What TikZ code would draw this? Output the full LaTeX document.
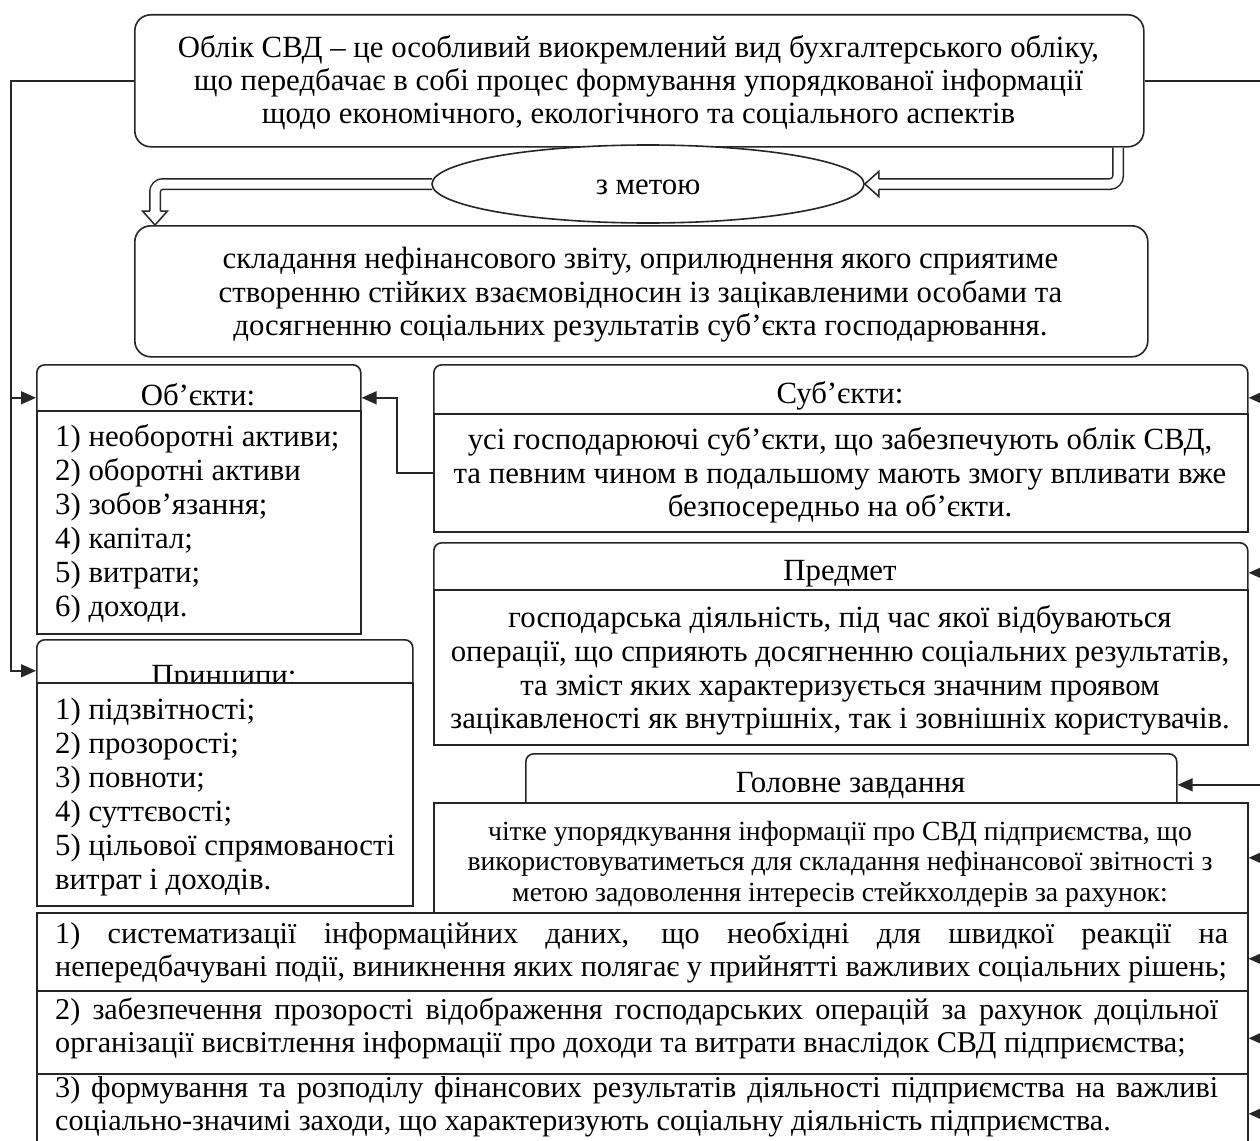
\documentclass[tikz,border=0pt]{standalone}
\usepackage{fontspec}
\setmainfont{Liberation Serif}
\usetikzlibrary{arrows.meta,shapes.geometric,calc}
\newcommand\TxC[3]{\node[txt,anchor=base] (#1) at (#2) {#3};}
\newcommand\TxL[3]{\node[txt,anchor=base west] (#1) at (#2) {#3};}
\newcommand\TxS[3]{\node[stx,anchor=base] (#1) at (#2) {#3};}
\newcommand\TxR[3]{\node[rtx,anchor=base west] (#1) at (#2) {#3};}
\begin{document}
\begin{tikzpicture}[x=1pt,y=-1pt,
 lc/.style={draw=black!85,line width=1.6pt},
 bx/.style={lc,fill=white,rectangle,inner sep=0pt,anchor=north west},
 rbx/.style={bx,rounded corners=16pt},
 hbx/.style={bx,rounded corners=8pt},
 arr/.style={draw=black!85,line width=1.5pt,-{Triangle[length=15pt,width=13pt]}},
 thinl/.style={draw=black!85,line width=1.4pt},
 dbl/.style={draw=black!85,line width=1.5pt,double=white,double distance=9pt,rounded corners=8pt},
 hd/.style={draw=black!85,fill=white,line width=1.5pt,line join=miter},
 txt/.style={inner sep=0pt,font=\fontsize{30.8}{34}\selectfont},
 stx/.style={inner sep=0pt,font=\fontsize{27.7}{30}\selectfont},
 rtx/.style={inner sep=0pt,font=\fontsize{30.2}{34}\selectfont}]
\fill[white] (0,0) rectangle (1260,1140);
\useasboundingbox (0,0) rectangle (1260,1140);
\coordinate (lbx) at (11,0);
\coordinate (rbx) at (1263,0);
\coordinate (dx1) at (1118,0);
\coordinate (dx2) at (155,0);
\coordinate (mx) at (397,0);

% top box
\node[rbx,minimum width=1009pt,minimum height=132pt] (top) at (134,14) {};
\TxC{t1}{638.5,57}{Облік СВД – це особливий виокремлений вид бухгалтерського обліку,}
\TxC{t2}{638.5,90}{що передбачає в собі процес формування упорядкованої інформації}
\TxC{t3}{638.5,123}{щодо економічного, екологічного та соціального аспектів}

% goal box
\node[rbx,minimum width=1013pt,minimum height=131pt] (goal) at (134,225) {};
\TxC{g1}{640.5,268}{складання нефінансового звіту, оприлюднення якого сприятиме}
\TxC{g2}{640.5,302}{створенню стійких взаємовідносин із зацікавленими особами та}
\TxC{g3}{640.5,335}{досягненню соціальних результатів суб’єкта господарювання.}

% double arrows and ellipse
\draw[dbl] (top.south -| dx1) -- (1118,184) -- (879,184);
\draw[dbl] (432,184) -| (155,211);
\node[ellipse,lc,fill=white,minimum width=432pt,minimum height=78pt,inner sep=0pt] (ell) at (648,184) {};
\TxC{e1}{648,194}{з метою}
\draw[hd] ($(ell.east)+(14,-5.25)$) -- ($(ell.east)+(14,-12.5)$) -- (ell.east) -- ($(ell.east)+(14,12.5)$) -- ($(ell.east)+(14,5.25)$);
\draw[hd] ($(goal.north -| dx2)+(-5.25,-14)$) -- ($(goal.north -| dx2)+(-12.5,-14)$) -- (goal.north -| dx2) -- ($(goal.north -| dx2)+(12.5,-14)$) -- ($(goal.north -| dx2)+(5.25,-14)$);

% objects
\node[hbx,minimum width=324pt,minimum height=66pt] (objH) at (36,364) {};
\TxC{oT}{198,405}{Об’єкти:}
\node[bx,minimum width=324pt,minimum height=223pt] (objB) at (36,410) {};
\TxL{o1}{55,446}{1) необоротні активи;}
\TxL{o2}{55,480}{2) оборотні активи}
\TxL{o3}{55,514}{3) зобов’язання;}
\TxL{o4}{55,548}{4) капітал;}
\TxL{o5}{55,582}{5) витрати;}
\TxL{o6}{55,616}{6) доходи.}

% subjects
\node[hbx,minimum width=814pt,minimum height=66pt] (subH) at (433,364) {};
\TxC{sT}{840,403}{Суб’єкти:}
\node[bx,minimum width=814pt,minimum height=118pt] (subB) at (433,413) {};
\TxC{s1}{840,449}{усі господарюючі суб’єкти, що забезпечують облік СВД,}
\TxC{s2}{840,483}{та певним чином в подальшому мають змогу впливати вже}
\TxC{s3}{840,516}{безпосередньо на об’єкти.}

% subject matter
\node[hbx,minimum width=814pt,minimum height=60pt] (prH) at (433,542) {};
\TxC{pT}{840,580}{Предмет}
\node[bx,minimum width=814pt,minimum height=155pt] (prB) at (433,589) {};
\TxC{p1}{840,627}{господарська діяльність, під час якої відбуваються}
\TxC{p2}{840,661}{операції, що сприяють досягненню соціальних результатів,}
\TxC{p3}{840,695}{та зміст яких характеризується значним проявом}
\TxC{p4}{840,728}{зацікавленості як внутрішніх, так і зовнішніх користувачів.}

% principles
\node[hbx,minimum width=376pt,minimum height=62pt] (prinH) at (36,639) {};
\TxC{nT}{224,685}{Принципи:}
\node[bx,minimum width=376pt,minimum height=223pt] (prinB) at (36,682) {};
\TxL{n1}{55,719}{1) підзвітності;}
\TxL{n2}{55,753}{2) прозорості;}
\TxL{n3}{55,787}{3) повноти;}
\TxL{n4}{55,821}{4) суттєвості;}
\TxL{n5}{55,855}{5) цільової спрямованості}
\TxL{n6}{55,889}{витрат і доходів.}

% main task
\node[hbx,minimum width=651pt,minimum height=62pt] (taskH) at (525,753) {};
\TxC{kT}{850.5,792}{Головне завдання}
\node[bx,minimum width=814pt,minimum height=110pt] (taskB) at (433,802) {};
\TxS{k1}{840,840}{чітке упорядкування інформації про СВД підприємства, що}
\TxS{k2}{840,870}{використовуватиметься для складання нефінансової звітності з}
\TxS{k3}{840,901}{метою задоволення інтересів стейкхолдерів за рахунок:}

% rows
\node[bx,minimum width=1211pt,minimum height=78pt] (r1) at (36,912) {};
\node[bx,minimum width=1211pt,minimum height=83pt] (r2) at (36,990) {};
\node[bx,minimum width=1211pt,minimum height=80pt] (r3) at (36,1073) {};
\TxR{a1}{55,943}{\makebox[1173pt][s]{1) систематизації інформаційних даних, що необхідні для швидкої реакції на}}
\TxR{a2}{55,976}{непередбачувані події, виникнення яких полягає у прийнятті важливих соціальних рішень;}
\TxR{b1}{55,1019}{\makebox[1163pt][s]{2) забезпечення прозорості відображення господарських операцій за рахунок доцільної}}
\TxR{b2}{55,1052}{організації висвітлення інформації про доходи та витрати внаслідок СВД підприємства;}
\TxR{c1}{55,1097}{\makebox[1163pt][s]{3) формування та розподілу фінансових результатів діяльності підприємства на важливі}}
\TxR{c2}{55,1130}{соціально-значимі заходи, що характеризують соціальну діяльність підприємства.}

% connectors
\draw[arr] (top.west) -- (top.west -| lbx) |- (prinH.west);
\draw[arr] (objH.west -| lbx) -- (objH.west);
\draw[arr] (subB.west) -- (subB.west -| mx) |- (objH.east);
\draw[thinl] (top.east) -- (top.east -| rbx) -- ($(r3.east -| rbx)+(0,2)$);
\draw[arr] (subH.east -| rbx) -- (subH.east);
\draw[arr] (prH.east -| rbx) -- (prH.east);
\draw[arr] (taskH.east -| rbx) -- (taskH.east);
\draw[arr] (taskB.east -| rbx) -- (taskB.east);
\draw[arr] ($(r1.east -| rbx)+(0,7)$) -- ($(r1.east)+(0,7)$);
\draw[arr] ($(r2.east -| rbx)+(0,6)$) -- ($(r2.east)+(0,6)$);
\draw[arr] (r3.east -| rbx) -- (r3.east);
\end{tikzpicture}
\end{document}
